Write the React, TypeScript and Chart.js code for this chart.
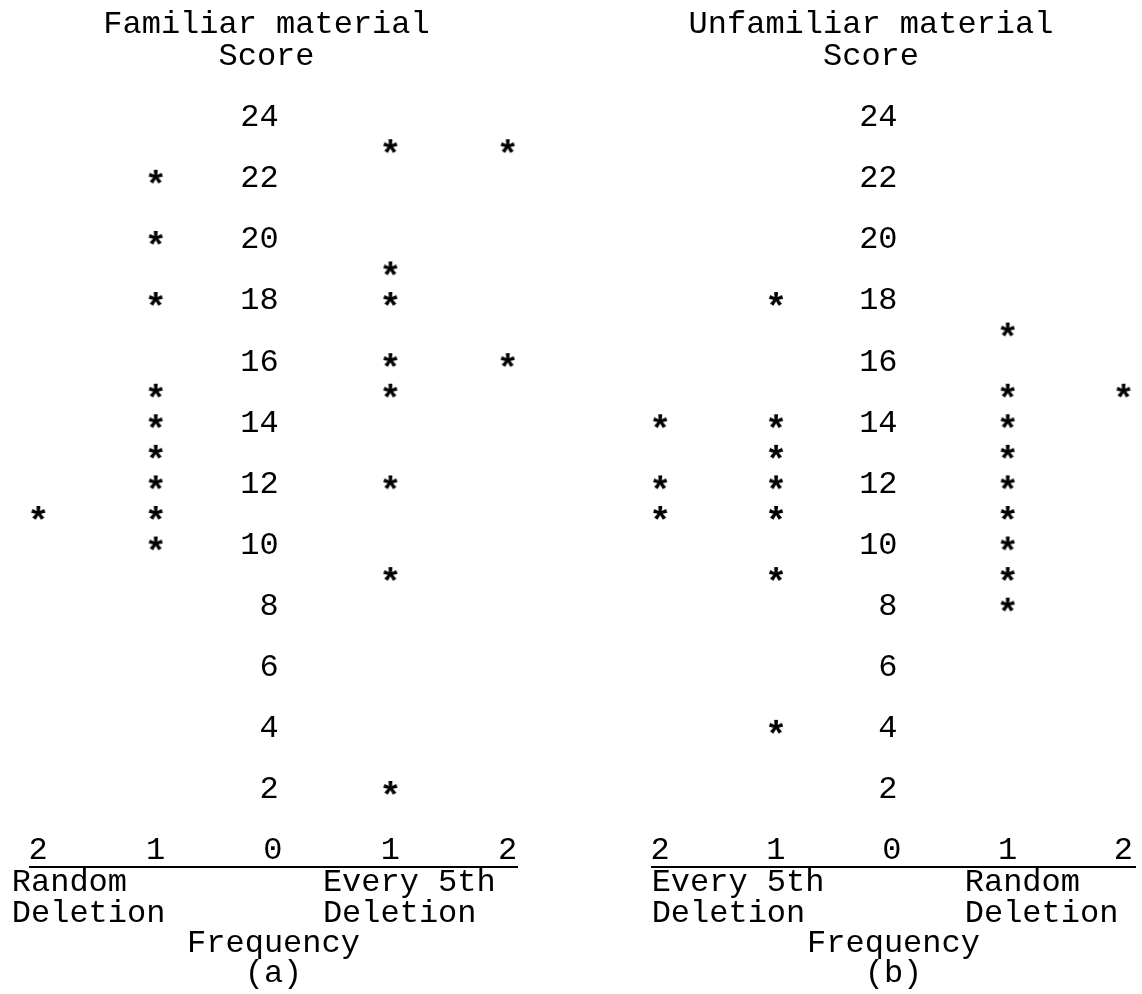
import React, { useEffect, useRef } from 'react';
import { Chart, registerables } from 'chart.js';

Chart.register(...registerables);

// Scores of individual subjects, grouped by material and deletion method
const familiarRandom = [22, 20, 18, 15, 14, 13, 12, 11, 11, 10];
const familiarEvery5th = [23, 23, 19, 18, 16, 16, 15, 12, 9, 2];
const unfamiliarEvery5th = [18, 14, 14, 13, 12, 12, 11, 11, 9, 4];
const unfamiliarRandom = [17, 15, 15, 14, 13, 12, 11, 10, 9, 8];

// Axis tick values
const scoreTicks = [2, 4, 6, 8, 10, 12, 14, 16, 18, 20, 22, 24];
const frequencyTicks = [-2, -1, 0, 1, 2];

// Texts
const familiarTitle = ['Familiar material', 'Score'];
const unfamiliarTitle = ['Unfamiliar material', 'Score'];
const familiarGroups = [['Random', 'Deletion'], ['Every 5th', 'Deletion']];
const unfamiliarGroups = [['Every 5th', 'Deletion'], ['Random', 'Deletion']];
const axisTitleA = ['Frequency', '(a)'];
const axisTitleB = ['Frequency', '(b)'];

const FONT = '"Liberation Mono", "Courier New", monospace';

// Frequency columns: k-th subject with the same score goes to column k on its side
function stackPoints(values: number[], side: number) {
  const seen = new Map<number, number>();
  return values.map((v) => {
    const k = (seen.get(v) || 0) + 1;
    seen.set(v, k);
    return { x: side * k, y: v };
  });
}

function makeStar(): HTMLCanvasElement {
  const c = document.createElement('canvas');
  c.width = 26;
  c.height = 26;
  const ctx = c.getContext('2d')!;
  ctx.font = `bold 37px ${FONT}`;
  ctx.textAlign = 'left';
  ctx.textBaseline = 'alphabetic';
  ctx.fillStyle = '#000';
  const m = ctx.measureText('*');
  const x = 13 + (m.actualBoundingBoxLeft - m.actualBoundingBoxRight) / 2;
  const y = 11 + (m.actualBoundingBoxAscent - m.actualBoundingBoxDescent) / 2;
  ctx.fillText('*', x, y);
  return c;
}

const font = (lh: number, size = 32) => ({
  family: FONT,
  size,
  weight: 'normal' as const,
  lineHeight: `${lh}px`,
});

interface PanelCfg {
  title: string[];
  leftLabel: string;
  rightLabel: string;
  left: number[];
  right: number[];
  groups: string[][];
  groupStarts: number[];
  axisTitle: string[];
  xMin: number;
  xMax: number;
  canvasLeft: number;
  canvasWidth: number;
  padLeft: number;
  padRight: number;
  leftGap: number;
}

function Panel({ cfg }: { cfg: PanelCfg }) {
  const ref = useRef<HTMLCanvasElement | null>(null);
  useEffect(() => {
    if (!ref.current) return;
    const star = makeStar();
    const chart = new Chart(ref.current, {
      type: 'scatter',
      data: {
        datasets: [
          {
            label: cfg.leftLabel,
            data: stackPoints(cfg.left, -1),
            xAxisID: 'x',
            yAxisID: 'y',
            pointStyle: star as any,
            pointRadius: 6,
            backgroundColor: '#000',
            borderColor: '#000',
          },
          {
            label: cfg.rightLabel,
            data: stackPoints(cfg.right, 1),
            xAxisID: 'x',
            yAxisID: 'y',
            pointStyle: star as any,
            pointRadius: 6,
            backgroundColor: '#000',
            borderColor: '#000',
          },
        ],
      },
      options: {
        animation: false,
        responsive: false,
        devicePixelRatio: 1,
        events: [],
        layout: { padding: { left: cfg.padLeft, right: cfg.padRight, top: 0, bottom: 5 } },
        plugins: {
          legend: { display: false },
          tooltip: { enabled: false },
          title: {
            display: true,
            text: cfg.title,
            color: '#000',
            font: font(32),
            padding: { top: 9, bottom: 8 },
          },
        },
        scales: {
          x: {
            type: 'linear',
            position: 'bottom',
            weight: 0,
            min: cfg.xMin,
            max: cfg.xMax,
            afterBuildTicks: (s: any) => {
              s.ticks = frequencyTicks.map((v) => ({ value: v }));
            },
            ticks: {
              mirror: true,
              padding: 0,
              color: '#000',
              font: font(32),
              autoSkip: false,
              maxRotation: 0,
              minRotation: 0,
              callback: (v: any) => String(Math.abs(Number(v))),
            },
            grid: { display: false, drawTicks: false },
            border: { display: true, color: '#000', width: 2 },
          },
          y: {
            type: 'linear',
            position: { x: 0.05 },
            min: -0.52,
            max: 25.2,
            afterBuildTicks: (s: any) => {
              s.ticks = scoreTicks.map((v) => ({ value: v }));
            },
            ticks: { color: '#000', font: font(32), padding: 0, autoSkip: false },
            grid: { display: false, drawTicks: false },
            border: { display: false },
          },
          xg: {
            type: 'linear',
            axis: 'x',
            position: 'bottom',
            weight: 1,
            min: cfg.xMin,
            max: cfg.xMax,
            afterBuildTicks: (s: any) => {
              s.ticks = cfg.groupStarts.map((v) => ({ value: v }));
            },
            ticks: {
              align: 'start',
              padding: 0,
              color: '#000',
              font: font(31),
              autoSkip: false,
              maxRotation: 0,
              minRotation: 0,
              callback: (_v: any, i: number) => cfg.groups[i],
            },
            grid: { display: false, drawTicks: false },
            border: { display: false },
            title: { display: true, text: cfg.axisTitle, color: '#000', font: font(30), padding: 0 },
          },
          gap: {
            type: 'linear',
            axis: 'y',
            position: 'left',
            display: true,
            min: 0,
            max: 1,
            ticks: { display: false },
            grid: { display: false, drawTicks: false },
            border: { display: false },
            afterFit: (s: any) => {
              s.width = cfg.leftGap;
            },
          },
        } as any,
      },
    });
    return () => chart.destroy();
  }, [cfg]);
  return (
    <canvas
      ref={ref}
      width={cfg.canvasWidth}
      height={994}
      style={{ position: 'absolute', left: cfg.canvasLeft, top: 0, width: cfg.canvasWidth, height: 994 }}
    />
  );
}

const panelA: PanelCfg = {
  title: familiarTitle,
  leftLabel: 'Random Deletion',
  rightLabel: 'Every 5th Deletion',
  left: familiarRandom,
  right: familiarEvery5th,
  groups: familiarGroups,
  groupStarts: [-2.225, 0.426],
  axisTitle: axisTitleA,
  xMin: -2.07,
  xMax: 2.08,
  canvasLeft: 0,
  canvasWidth: 540,
  padLeft: 16,
  padRight: 23,
  leftGap: 14,
};

const panelB: PanelCfg = {
  title: unfamiliarTitle,
  leftLabel: 'Every 5th Deletion',
  rightLabel: 'Random Deletion',
  left: unfamiliarEvery5th,
  right: unfamiliarRandom,
  groups: unfamiliarGroups,
  groupStarts: [-2.073, 0.63],
  axisTitle: axisTitleB,
  xMin: -2.07,
  xMax: 2.1,
  canvasLeft: 571,
  canvasWidth: 571,
  padLeft: 29,
  padRight: 0,
  leftGap: 52,
};

export default function App() {
  return (
    <div style={{ position: 'absolute', left: 0, top: 0, width: 1142, height: 994, background: '#fff', overflow: 'hidden' }}>
      <Panel cfg={panelA} />
      <Panel cfg={panelB} />
    </div>
  );
}
